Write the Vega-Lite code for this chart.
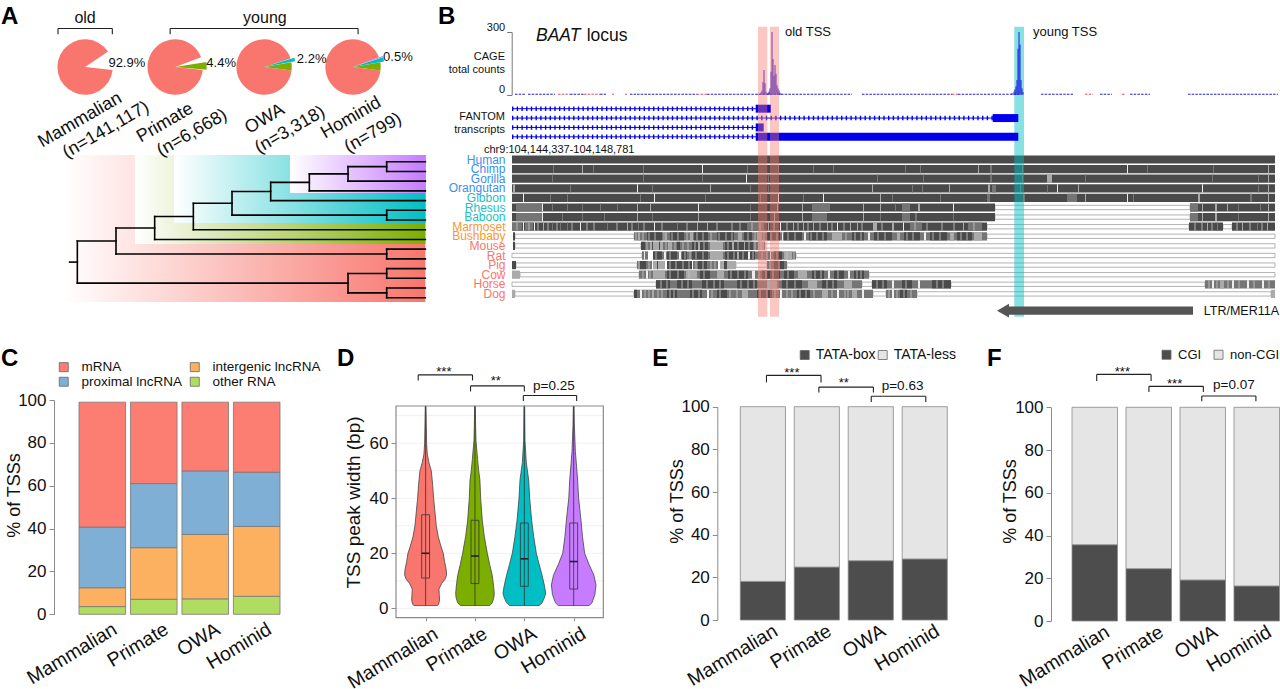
{"$schema":"https://vega.github.io/schema/vega-lite/v6.json","padding":0,"autosize":{"type":"pad"},"background":"white","bounds":"flush","spacing":0,"columns":4,"resolve":{"scale":{"color":"independent"}},
"config":{"font":"Liberation Sans","view":{"stroke":null},"title":{"fontSize":24,"fontWeight":"bold","anchor":"start","frame":"group","offset":0,"baseline":"alphabetic","color":"#000"},"axis":{"grid":false,"labelFontSize":17,"titleFontSize":18,"titleFontWeight":"normal","domainColor":"#8c8c8c","tickColor":"#8c8c8c","labelColor":"#111","titleColor":"#111","tickSize":5,"labelPadding":3,"labelOverlap":false,"labelFlush":false,"labelBound":false},"axisX":{"labelAngle":-31,"labelFontSize":19.5,"labelAlign":"right","labelBaseline":"middle","domain":false,"ticks":false,"labelOffset":13,"labelPadding":13,"title":null},"legend":{"title":null,"padding":0,"symbolType":"square","symbolSize":81,"symbolStrokeColor":"#666","symbolStrokeWidth":0.8,"labelFontSize":13.5,"labelColor":"#111","orient":"none"}},
"datasets":{
"branches":[{"x":8,"x2":9,"y":0,"y2":0},{"x":8,"x2":9,"y":1,"y2":1},{"x":8,"x2":9,"y":5,"y2":5},{"x":8,"x2":9,"y":6,"y2":6},{"x":8,"x2":9,"y":9,"y2":9},{"x":8,"x2":9,"y":10,"y2":10},{"x":8,"x2":9,"y":11,"y2":11},{"x":8,"x2":9,"y":12,"y2":12},{"x":8,"x2":9,"y":13,"y2":13},{"x":8,"x2":9,"y":14,"y2":14},{"x":7,"x2":8,"y":0.5,"y2":0.5},{"x":7,"x2":9,"y":2,"y2":2},{"x":6,"x2":7,"y":1.25,"y2":1.25},{"x":6,"x2":9,"y":3,"y2":3},{"x":5,"x2":6,"y":2.125,"y2":2.125},{"x":5,"x2":9,"y":4,"y2":4},{"x":4,"x2":5,"y":3.06,"y2":3.06},{"x":4,"x2":8,"y":5.5,"y2":5.5},{"x":3,"x2":4,"y":4.28,"y2":4.28},{"x":3,"x2":9,"y":7,"y2":7},{"x":2,"x2":3,"y":5.64,"y2":5.64},{"x":2,"x2":9,"y":8,"y2":8},{"x":1,"x2":2,"y":6.82,"y2":6.82},{"x":1,"x2":8,"y":9.5,"y2":9.5},{"x":0,"x2":1,"y":8.16,"y2":8.16},{"x":0,"x2":7,"y":12.5,"y2":12.5},{"x":7,"x2":8,"y":11.5,"y2":11.5},{"x":7,"x2":8,"y":13.5,"y2":13.5},{"x":-0.2,"x2":0,"y":10.33,"y2":10.33},{"x":8,"x2":8,"y":0,"y2":1},{"x":7,"x2":7,"y":0.5,"y2":2},{"x":6,"x2":6,"y":1.25,"y2":3},{"x":5,"x2":5,"y":2.125,"y2":4},{"x":8,"x2":8,"y":5,"y2":6},{"x":4,"x2":4,"y":3.06,"y2":5.5},{"x":3,"x2":3,"y":4.28,"y2":7},{"x":2,"x2":2,"y":5.64,"y2":8},{"x":8,"x2":8,"y":9,"y2":10},{"x":1,"x2":1,"y":6.82,"y2":9.5},{"x":8,"x2":8,"y":11,"y2":12},{"x":8,"x2":8,"y":13,"y2":14},{"x":7,"x2":7,"y":11.5,"y2":13.5},{"x":0,"x2":0,"y":8.16,"y2":12.5}],
"aln":[{"s":"Human","a":0,"b":763,"c":"h"},
{"s":"Chimp","a":0,"b":763,"c":"h"},{"s":"Chimp","a":41,"b":42,"c":"m"},{"s":"Chimp","a":70,"b":71,"c":"l"},{"s":"Chimp","a":81,"b":82,"c":"m"},{"s":"Chimp","a":131,"b":132,"c":"m"},{"s":"Chimp","a":190,"b":191,"c":"w"},{"s":"Chimp","a":235,"b":236,"c":"m"},{"s":"Chimp","a":266,"b":267,"c":"m"},{"s":"Chimp","a":301,"b":302,"c":"m"},{"s":"Chimp","a":321,"b":322,"c":"m"},{"s":"Chimp","a":393,"b":394,"c":"m"},{"s":"Chimp","a":408,"b":409,"c":"m"},{"s":"Chimp","a":466,"b":467,"c":"l"},{"s":"Chimp","a":478,"b":480,"c":"m"},{"s":"Chimp","a":510,"b":511,"c":"m"},{"s":"Chimp","a":615,"b":616,"c":"w"},{"s":"Chimp","a":635,"b":636,"c":"m"},{"s":"Chimp","a":701,"b":702,"c":"m"},{"s":"Chimp","a":756,"b":757,"c":"l"},
{"s":"Gorilla","a":0,"b":763,"c":"h"},{"s":"Gorilla","a":40,"b":41,"c":"m"},{"s":"Gorilla","a":131,"b":132,"c":"m"},{"s":"Gorilla","a":190,"b":191,"c":"m"},{"s":"Gorilla","a":234,"b":235,"c":"w"},{"s":"Gorilla","a":256,"b":257,"c":"m"},{"s":"Gorilla","a":365,"b":366,"c":"m"},{"s":"Gorilla","a":411,"b":412,"c":"m"},{"s":"Gorilla","a":478,"b":480,"c":"m"},{"s":"Gorilla","a":510,"b":511,"c":"m"},{"s":"Gorilla","a":535,"b":540,"c":"l"},{"s":"Gorilla","a":573,"b":574,"c":"m"},{"s":"Gorilla","a":700,"b":701,"c":"m"},{"s":"Gorilla","a":746,"b":747,"c":"m"},{"s":"Gorilla","a":756,"b":757,"c":"l"},
{"s":"Orangutan","a":0,"b":763,"c":"h"},{"s":"Orangutan","a":1,"b":3,"c":"l"},{"s":"Orangutan","a":58,"b":59,"c":"m"},{"s":"Orangutan","a":125,"b":126,"c":"w"},{"s":"Orangutan","a":140,"b":141,"c":"m"},{"s":"Orangutan","a":198,"b":199,"c":"l"},{"s":"Orangutan","a":238,"b":239,"c":"m"},{"s":"Orangutan","a":256,"b":257,"c":"m"},{"s":"Orangutan","a":360,"b":361,"c":"l"},{"s":"Orangutan","a":400,"b":401,"c":"m"},{"s":"Orangutan","a":410,"b":411,"c":"m"},{"s":"Orangutan","a":437,"b":438,"c":"l"},{"s":"Orangutan","a":476,"b":478,"c":"l"},{"s":"Orangutan","a":480,"b":484,"c":"m"},{"s":"Orangutan","a":508,"b":509,"c":"m"},{"s":"Orangutan","a":535,"b":536,"c":"m"},{"s":"Orangutan","a":545,"b":546,"c":"w"},{"s":"Orangutan","a":566,"b":567,"c":"l"},{"s":"Orangutan","a":690,"b":691,"c":"w"},{"s":"Orangutan","a":746,"b":747,"c":"m"},{"s":"Orangutan","a":756,"b":757,"c":"l"},
{"s":"Gibbon","a":0,"b":763,"c":"h"},{"s":"Gibbon","a":11,"b":12,"c":"w"},{"s":"Gibbon","a":38,"b":39,"c":"m"},{"s":"Gibbon","a":55,"b":56,"c":"m"},{"s":"Gibbon","a":128,"b":129,"c":"m"},{"s":"Gibbon","a":142,"b":143,"c":"w"},{"s":"Gibbon","a":193,"b":194,"c":"m"},{"s":"Gibbon","a":248,"b":249,"c":"m"},{"s":"Gibbon","a":266,"b":267,"c":"w"},{"s":"Gibbon","a":291,"b":292,"c":"m"},{"s":"Gibbon","a":311,"b":312,"c":"w"},{"s":"Gibbon","a":368,"b":369,"c":"l"},{"s":"Gibbon","a":380,"b":381,"c":"m"},{"s":"Gibbon","a":428,"b":429,"c":"m"},{"s":"Gibbon","a":475,"b":478,"c":"m"},{"s":"Gibbon","a":511,"b":513,"c":"m"},{"s":"Gibbon","a":555,"b":565,"c":"m"},{"s":"Gibbon","a":573,"b":574,"c":"l"},{"s":"Gibbon","a":615,"b":616,"c":"w"},{"s":"Gibbon","a":621,"b":622,"c":"m"},{"s":"Gibbon","a":686,"b":688,"c":"l"},{"s":"Gibbon","a":738,"b":740,"c":"m"},{"s":"Gibbon","a":756,"b":757,"c":"l"},
{"s":"Rhesus","a":0,"b":483,"c":"h"},{"s":"Rhesus","a":678,"b":763,"c":"h"},{"s":"Rhesus","a":4,"b":30,"c":"m"},{"s":"Rhesus","a":30,"b":31,"c":"w"},{"s":"Rhesus","a":40,"b":41,"c":"m"},{"s":"Rhesus","a":55,"b":56,"c":"m"},{"s":"Rhesus","a":70,"b":71,"c":"m"},{"s":"Rhesus","a":88,"b":89,"c":"m"},{"s":"Rhesus","a":105,"b":106,"c":"m"},{"s":"Rhesus","a":125,"b":126,"c":"l"},{"s":"Rhesus","a":138,"b":139,"c":"l"},{"s":"Rhesus","a":186,"b":187,"c":"w"},{"s":"Rhesus","a":238,"b":239,"c":"m"},{"s":"Rhesus","a":265,"b":266,"c":"l"},{"s":"Rhesus","a":290,"b":291,"c":"l"},{"s":"Rhesus","a":300,"b":318,"c":"m"},{"s":"Rhesus","a":351,"b":352,"c":"l"},{"s":"Rhesus","a":368,"b":369,"c":"l"},{"s":"Rhesus","a":383,"b":384,"c":"m"},{"s":"Rhesus","a":390,"b":398,"c":"m"},{"s":"Rhesus","a":406,"b":408,"c":"l"},{"s":"Rhesus","a":441,"b":442,"c":"w"},{"s":"Rhesus","a":678,"b":686,"c":"m"},{"s":"Rhesus","a":690,"b":691,"c":"l"},{"s":"Rhesus","a":703,"b":705,"c":"l"},{"s":"Rhesus","a":715,"b":716,"c":"l"},{"s":"Rhesus","a":726,"b":727,"c":"m"},{"s":"Rhesus","a":748,"b":749,"c":"m"},{"s":"Rhesus","a":756,"b":757,"c":"l"},
{"s":"Baboon","a":0,"b":483,"c":"h"},{"s":"Baboon","a":678,"b":763,"c":"h"},{"s":"Baboon","a":4,"b":30,"c":"m"},{"s":"Baboon","a":30,"b":31,"c":"w"},{"s":"Baboon","a":50,"b":51,"c":"m"},{"s":"Baboon","a":70,"b":71,"c":"m"},{"s":"Baboon","a":92,"b":93,"c":"m"},{"s":"Baboon","a":125,"b":126,"c":"l"},{"s":"Baboon","a":140,"b":141,"c":"m"},{"s":"Baboon","a":186,"b":187,"c":"l"},{"s":"Baboon","a":238,"b":239,"c":"m"},{"s":"Baboon","a":262,"b":263,"c":"l"},{"s":"Baboon","a":290,"b":291,"c":"l"},{"s":"Baboon","a":300,"b":315,"c":"m"},{"s":"Baboon","a":351,"b":352,"c":"l"},{"s":"Baboon","a":368,"b":369,"c":"m"},{"s":"Baboon","a":390,"b":398,"c":"m"},{"s":"Baboon","a":403,"b":405,"c":"m"},{"s":"Baboon","a":441,"b":442,"c":"m"},{"s":"Baboon","a":678,"b":686,"c":"m"},{"s":"Baboon","a":690,"b":691,"c":"l"},{"s":"Baboon","a":703,"b":705,"c":"l"},{"s":"Baboon","a":726,"b":727,"c":"m"},{"s":"Baboon","a":756,"b":757,"c":"l"},
{"s":"Marmoset","a":0,"b":475,"c":"h"},{"s":"Marmoset","a":677,"b":711,"c":"h"},{"s":"Marmoset","a":720,"b":763,"c":"h"},{"s":"Marmoset","a":0,"b":10,"c":"m"},{"s":"Marmoset","a":11,"b":12,"c":"w"},{"s":"Marmoset","a":13,"b":21,"c":"m"},{"s":"Marmoset","a":22,"b":23,"c":"w"},{"s":"Marmoset","a":31,"b":32,"c":"l"},{"s":"Marmoset","a":40,"b":41,"c":"m"},{"s":"Marmoset","a":48,"b":49,"c":"m"},{"s":"Marmoset","a":55,"b":56,"c":"m"},{"s":"Marmoset","a":68,"b":69,"c":"w"},{"s":"Marmoset","a":95,"b":96,"c":"m"},{"s":"Marmoset","a":115,"b":116,"c":"l"},{"s":"Marmoset","a":126,"b":127,"c":"m"},{"s":"Marmoset","a":142,"b":143,"c":"w"},{"s":"Marmoset","a":165,"b":166,"c":"m"},{"s":"Marmoset","a":185,"b":186,"c":"l"},{"s":"Marmoset","a":195,"b":196,"c":"l"},{"s":"Marmoset","a":235,"b":252,"c":"m"},{"s":"Marmoset","a":256,"b":257,"c":"l"},{"s":"Marmoset","a":268,"b":269,"c":"w"},{"s":"Marmoset","a":281,"b":282,"c":"l"},{"s":"Marmoset","a":291,"b":292,"c":"l"},{"s":"Marmoset","a":301,"b":302,"c":"l"},{"s":"Marmoset","a":315,"b":316,"c":"l"},{"s":"Marmoset","a":325,"b":326,"c":"w"},{"s":"Marmoset","a":338,"b":339,"c":"l"},{"s":"Marmoset","a":345,"b":346,"c":"l"},{"s":"Marmoset","a":361,"b":365,"c":"l"},{"s":"Marmoset","a":380,"b":382,"c":"l"},{"s":"Marmoset","a":391,"b":392,"c":"w"},{"s":"Marmoset","a":398,"b":410,"c":"m"},{"s":"Marmoset","a":451,"b":452,"c":"l"},{"s":"Marmoset","a":456,"b":470,"c":"m"},{"s":"Marmoset","a":695,"b":696,"c":"l"},{"s":"Marmoset","a":705,"b":706,"c":"m"},{"s":"Marmoset","a":730,"b":731,"c":"l"},{"s":"Marmoset","a":745,"b":746,"c":"m"},{"s":"Marmoset","a":755,"b":756,"c":"l"},
{"s":"Bushbaby","a":1,"b":3,"c":"h"},{"s":"Bushbaby","a":122,"b":475,"c":"m"},{"s":"Bushbaby","a":135,"b":150,"c":"h"},{"s":"Bushbaby","a":158,"b":172,"c":"h"},{"s":"Bushbaby","a":182,"b":196,"c":"h"},{"s":"Bushbaby","a":205,"b":222,"c":"h"},{"s":"Bushbaby","a":232,"b":240,"c":"h"},{"s":"Bushbaby","a":255,"b":268,"c":"h"},{"s":"Bushbaby","a":272,"b":290,"c":"h"},{"s":"Bushbaby","a":297,"b":315,"c":"h"},{"s":"Bushbaby","a":340,"b":352,"c":"h"},{"s":"Bushbaby","a":362,"b":380,"c":"h"},{"s":"Bushbaby","a":392,"b":408,"c":"h"},{"s":"Bushbaby","a":418,"b":435,"c":"h"},{"s":"Bushbaby","a":445,"b":460,"c":"h"},{"s":"Bushbaby","a":126,"b":128,"c":"l"},{"s":"Bushbaby","a":153,"b":155,"c":"l"},{"s":"Bushbaby","a":178,"b":181,"c":"l"},{"s":"Bushbaby","a":226,"b":230,"c":"l"},{"s":"Bushbaby","a":245,"b":250,"c":"l"},{"s":"Bushbaby","a":270,"b":271,"c":"w"},{"s":"Bushbaby","a":292,"b":294,"c":"w"},{"s":"Bushbaby","a":320,"b":330,"c":"l"},{"s":"Bushbaby","a":356,"b":358,"c":"w"},{"s":"Bushbaby","a":385,"b":388,"c":"l"},{"s":"Bushbaby","a":412,"b":414,"c":"w"},{"s":"Bushbaby","a":438,"b":442,"c":"l"},{"s":"Bushbaby","a":462,"b":470,"c":"l"},
{"s":"Mouse","a":1,"b":3,"c":"h"},{"s":"Mouse","a":129,"b":253,"c":"m"},{"s":"Mouse","a":129,"b":133,"c":"h"},{"s":"Mouse","a":138,"b":151,"c":"l"},{"s":"Mouse","a":140,"b":141,"c":"h"},{"s":"Mouse","a":147,"b":148,"c":"h"},{"s":"Mouse","a":156,"b":160,"c":"l"},{"s":"Mouse","a":165,"b":168,"c":"h"},{"s":"Mouse","a":180,"b":196,"c":"h"},{"s":"Mouse","a":186,"b":188,"c":"l"},{"s":"Mouse","a":198,"b":211,"c":"l"},{"s":"Mouse","a":213,"b":241,"c":"h"},{"s":"Mouse","a":220,"b":222,"c":"l"},{"s":"Mouse","a":232,"b":233,"c":"l"},{"s":"Mouse","a":246,"b":252,"c":"l"},
{"s":"Rat","a":130,"b":136,"c":"m"},{"s":"Rat","a":132,"b":133,"c":"w"},{"s":"Rat","a":141,"b":284,"c":"m"},{"s":"Rat","a":141,"b":150,"c":"h"},{"s":"Rat","a":155,"b":165,"c":"h"},{"s":"Rat","a":170,"b":175,"c":"h"},{"s":"Rat","a":152,"b":154,"c":"w"},{"s":"Rat","a":167,"b":169,"c":"w"},{"s":"Rat","a":180,"b":196,"c":"h"},{"s":"Rat","a":198,"b":211,"c":"l"},{"s":"Rat","a":213,"b":243,"c":"h"},{"s":"Rat","a":225,"b":227,"c":"l"},{"s":"Rat","a":236,"b":238,"c":"w"},{"s":"Rat","a":246,"b":258,"c":"m"},{"s":"Rat","a":258,"b":259,"c":"w"},{"s":"Rat","a":262,"b":270,"c":"h"},{"s":"Rat","a":272,"b":280,"c":"l"},
{"s":"Pig","a":0,"b":4,"c":"h"},{"s":"Pig","a":125,"b":140,"c":"m"},{"s":"Pig","a":128,"b":134,"c":"h"},{"s":"Pig","a":141,"b":153,"c":"l"},{"s":"Pig","a":145,"b":146,"c":"h"},{"s":"Pig","a":155,"b":180,"c":"h"},{"s":"Pig","a":181,"b":206,"c":"m"},{"s":"Pig","a":186,"b":195,"c":"h"},{"s":"Pig","a":208,"b":224,"c":"l"},{"s":"Pig","a":212,"b":215,"c":"h"},{"s":"Pig","a":255,"b":275,"c":"m"},{"s":"Pig","a":262,"b":272,"c":"h"},
{"s":"Cow","a":0,"b":8,"c":"l"},{"s":"Cow","a":127,"b":357,"c":"m"},{"s":"Cow","a":134,"b":136,"c":"w"},{"s":"Cow","a":141,"b":153,"c":"l"},{"s":"Cow","a":155,"b":172,"c":"h"},{"s":"Cow","a":174,"b":185,"c":"l"},{"s":"Cow","a":188,"b":198,"c":"h"},{"s":"Cow","a":205,"b":212,"c":"l"},{"s":"Cow","a":216,"b":236,"c":"h"},{"s":"Cow","a":240,"b":243,"c":"w"},{"s":"Cow","a":250,"b":268,"c":"h"},{"s":"Cow","a":272,"b":282,"c":"h"},{"s":"Cow","a":286,"b":295,"c":"l"},{"s":"Cow","a":300,"b":312,"c":"h"},{"s":"Cow","a":316,"b":318,"c":"w"},{"s":"Cow","a":322,"b":332,"c":"h"},{"s":"Cow","a":336,"b":338,"c":"w"},{"s":"Cow","a":342,"b":352,"c":"h"},
{"s":"Horse","a":144,"b":350,"c":"m"},{"s":"Horse","a":360,"b":439,"c":"m"},{"s":"Horse","a":693,"b":763,"c":"m"},{"s":"Horse","a":144,"b":158,"c":"h"},{"s":"Horse","a":165,"b":180,"c":"h"},{"s":"Horse","a":190,"b":212,"c":"h"},{"s":"Horse","a":225,"b":245,"c":"h"},{"s":"Horse","a":255,"b":265,"c":"l"},{"s":"Horse","a":270,"b":290,"c":"h"},{"s":"Horse","a":296,"b":305,"c":"l"},{"s":"Horse","a":310,"b":325,"c":"h"},{"s":"Horse","a":332,"b":340,"c":"l"},{"s":"Horse","a":360,"b":375,"c":"h"},{"s":"Horse","a":380,"b":382,"c":"w"},{"s":"Horse","a":390,"b":400,"c":"h"},{"s":"Horse","a":406,"b":408,"c":"w"},{"s":"Horse","a":420,"b":439,"c":"h"},{"s":"Horse","a":700,"b":702,"c":"w"},{"s":"Horse","a":708,"b":712,"c":"l"},{"s":"Horse","a":720,"b":722,"c":"w"},{"s":"Horse","a":735,"b":737,"c":"w"},{"s":"Horse","a":750,"b":752,"c":"w"},
{"s":"Dog","a":0,"b":3,"c":"l"},{"s":"Dog","a":122,"b":361,"c":"m"},{"s":"Dog","a":374,"b":405,"c":"m"},{"s":"Dog","a":759,"b":763,"c":"l"},{"s":"Dog","a":122,"b":125,"c":"h"},{"s":"Dog","a":128,"b":130,"c":"w"},{"s":"Dog","a":140,"b":142,"c":"l"},{"s":"Dog","a":155,"b":165,"c":"h"},{"s":"Dog","a":178,"b":190,"c":"h"},{"s":"Dog","a":195,"b":197,"c":"w"},{"s":"Dog","a":205,"b":215,"c":"h"},{"s":"Dog","a":230,"b":236,"c":"l"},{"s":"Dog","a":245,"b":260,"c":"h"},{"s":"Dog","a":268,"b":270,"c":"w"},{"s":"Dog","a":285,"b":298,"c":"h"},{"s":"Dog","a":310,"b":316,"c":"l"},{"s":"Dog","a":325,"b":327,"c":"w"},{"s":"Dog","a":340,"b":345,"c":"l"},{"s":"Dog","a":350,"b":352,"c":"w"},{"s":"Dog","a":380,"b":382,"c":"w"},{"s":"Dog","a":388,"b":395,"c":"h"}],
"stripes":[{"s":"Bushbaby","a":124},{"s":"Bushbaby","a":131},{"s":"Bushbaby","a":137},{"s":"Bushbaby","a":143},{"s":"Bushbaby","a":152},{"s":"Bushbaby","a":160},{"s":"Bushbaby","a":166},{"s":"Bushbaby","a":175},{"s":"Bushbaby","a":185},{"s":"Bushbaby","a":191},{"s":"Bushbaby","a":199},{"s":"Bushbaby","a":207},{"s":"Bushbaby","a":214},{"s":"Bushbaby","a":220},{"s":"Bushbaby","a":236},{"s":"Bushbaby","a":243},{"s":"Bushbaby","a":252},{"s":"Bushbaby","a":259},{"s":"Bushbaby","a":265},{"s":"Bushbaby","a":276},{"s":"Bushbaby","a":283},{"s":"Bushbaby","a":299},{"s":"Bushbaby","a":305},{"s":"Bushbaby","a":311},{"s":"Bushbaby","a":334},{"s":"Bushbaby","a":343},{"s":"Bushbaby","a":349},{"s":"Bushbaby","a":366},{"s":"Bushbaby","a":373},{"s":"Bushbaby","a":395},{"s":"Bushbaby","a":401},{"s":"Bushbaby","a":421},{"s":"Bushbaby","a":428},{"s":"Bushbaby","a":449},{"s":"Bushbaby","a":455},
{"s":"Mouse","a":135},{"s":"Mouse","a":154},{"s":"Mouse","a":163},{"s":"Mouse","a":171},{"s":"Mouse","a":176},{"s":"Mouse","a":183},{"s":"Mouse","a":192},{"s":"Mouse","a":216},{"s":"Mouse","a":226},{"s":"Mouse","a":237},{"s":"Mouse","a":243},{"s":"Mouse","a":249},
{"s":"Rat","a":144},{"s":"Rat","a":158},{"s":"Rat","a":173},{"s":"Rat","a":178},{"s":"Rat","a":184},{"s":"Rat","a":191},{"s":"Rat","a":216},{"s":"Rat","a":222},{"s":"Rat","a":231},{"s":"Rat","a":241},{"s":"Rat","a":250},{"s":"Rat","a":255},{"s":"Rat","a":265},{"s":"Rat","a":275},{"s":"Rat","a":282},
{"s":"Pig","a":127},{"s":"Pig","a":137},{"s":"Pig","a":158},{"s":"Pig","a":164},{"s":"Pig","a":171},{"s":"Pig","a":177},{"s":"Pig","a":184},{"s":"Pig","a":191},{"s":"Pig","a":199},{"s":"Pig","a":203},{"s":"Pig","a":258},{"s":"Pig","a":267},
{"s":"Cow","a":131},{"s":"Cow","a":138},{"s":"Cow","a":158},{"s":"Cow","a":166},{"s":"Cow","a":177},{"s":"Cow","a":192},{"s":"Cow","a":219},{"s":"Cow","a":226},{"s":"Cow","a":233},{"s":"Cow","a":247},{"s":"Cow","a":254},{"s":"Cow","a":261},{"s":"Cow","a":276},{"s":"Cow","a":303},{"s":"Cow","a":309},{"s":"Cow","a":326},{"s":"Cow","a":345},{"s":"Cow","a":349},
{"s":"Horse","a":149},{"s":"Horse","a":155},{"s":"Horse","a":170},{"s":"Horse","a":176},{"s":"Horse","a":195},{"s":"Horse","a":202},{"s":"Horse","a":208},{"s":"Horse","a":229},{"s":"Horse","a":236},{"s":"Horse","a":242},{"s":"Horse","a":275},{"s":"Horse","a":283},{"s":"Horse","a":315},{"s":"Horse","a":321},{"s":"Horse","a":365},{"s":"Horse","a":371},{"s":"Horse","a":394},{"s":"Horse","a":425},{"s":"Horse","a":431},{"s":"Horse","a":697},{"s":"Horse","a":705},{"s":"Horse","a":716},{"s":"Horse","a":727},{"s":"Horse","a":742},{"s":"Horse","a":757},
{"s":"Dog","a":133},{"s":"Dog","a":137},{"s":"Dog","a":146},{"s":"Dog","a":150},{"s":"Dog","a":158},{"s":"Dog","a":162},{"s":"Dog","a":181},{"s":"Dog","a":187},{"s":"Dog","a":200},{"s":"Dog","a":208},{"s":"Dog","a":218},{"s":"Dog","a":225},{"s":"Dog","a":248},{"s":"Dog","a":255},{"s":"Dog","a":263},{"s":"Dog","a":275},{"s":"Dog","a":280},{"s":"Dog","a":288},{"s":"Dog","a":294},{"s":"Dog","a":302},{"s":"Dog","a":320},{"s":"Dog","a":333},{"s":"Dog","a":336},{"s":"Dog","a":377},{"s":"Dog","a":385},{"s":"Dog","a":392},{"s":"Dog","a":399},
{"s":"Marmoset","a":5},{"s":"Marmoset","a":17},{"s":"Marmoset","a":26},{"s":"Marmoset","a":36},{"s":"Marmoset","a":45},{"s":"Marmoset","a":60},{"s":"Marmoset","a":75},{"s":"Marmoset","a":82},{"s":"Marmoset","a":105},{"s":"Marmoset","a":120},{"s":"Marmoset","a":132},{"s":"Marmoset","a":150},{"s":"Marmoset","a":175},{"s":"Marmoset","a":205},{"s":"Marmoset","a":220},{"s":"Marmoset","a":228},{"s":"Marmoset","a":240},{"s":"Marmoset","a":248},{"s":"Marmoset","a":262},{"s":"Marmoset","a":275},{"s":"Marmoset","a":286},{"s":"Marmoset","a":296},{"s":"Marmoset","a":308},{"s":"Marmoset","a":320},{"s":"Marmoset","a":332},{"s":"Marmoset","a":350},{"s":"Marmoset","a":370},{"s":"Marmoset","a":403},{"s":"Marmoset","a":415},{"s":"Marmoset","a":430},{"s":"Marmoset","a":442},{"s":"Marmoset","a":462},{"s":"Marmoset","a":683},{"s":"Marmoset","a":690},{"s":"Marmoset","a":700},{"s":"Marmoset","a":725},{"s":"Marmoset","a":738},{"s":"Marmoset","a":750}],
"gaps":[{"s":"Rhesus","a":483,"b":678},{"s":"Baboon","a":483,"b":678},{"s":"Marmoset","a":475,"b":677},{"s":"Marmoset","a":711,"b":720},{"s":"Bushbaby","a":3,"b":122},{"s":"Bushbaby","a":475,"b":763},{"s":"Mouse","a":3,"b":129},{"s":"Mouse","a":253,"b":763},{"s":"Rat","a":0,"b":130},{"s":"Rat","a":284,"b":763},{"s":"Pig","a":4,"b":125},{"s":"Pig","a":224,"b":255},{"s":"Pig","a":275,"b":763},{"s":"Cow","a":8,"b":127},{"s":"Cow","a":357,"b":763},{"s":"Horse","a":0,"b":144},{"s":"Horse","a":350,"b":360},{"s":"Horse","a":439,"b":693},{"s":"Dog","a":3,"b":122},{"s":"Dog","a":361,"b":374},{"s":"Dog","a":405,"b":759}],
"violins":[
{"age":"Mammalian","y":1,"x":0.76,"x2":1.24},{"age":"Mammalian","y":1.5,"x":0.737,"x2":1.263},{"age":"Mammalian","y":3,"x":0.717,"x2":1.283},{"age":"Mammalian","y":5,"x":0.724,"x2":1.276},{"age":"Mammalian","y":7,"x":0.73,"x2":1.27},{"age":"Mammalian","y":9,"x":0.676,"x2":1.324},{"age":"Mammalian","y":10.5,"x":0.609,"x2":1.391},{"age":"Mammalian","y":12,"x":0.575,"x2":1.425},{"age":"Mammalian","y":14,"x":0.582,"x2":1.418},{"age":"Mammalian","y":17,"x":0.616,"x2":1.384},{"age":"Mammalian","y":20,"x":0.643,"x2":1.357},{"age":"Mammalian","y":23,"x":0.697,"x2":1.303},{"age":"Mammalian","y":26,"x":0.744,"x2":1.256},{"age":"Mammalian","y":30,"x":0.784,"x2":1.216},{"age":"Mammalian","y":35,"x":0.811,"x2":1.189},{"age":"Mammalian","y":40,"x":0.838,"x2":1.162},{"age":"Mammalian","y":45,"x":0.858,"x2":1.142},{"age":"Mammalian","y":50,"x":0.885,"x2":1.115},{"age":"Mammalian","y":53,"x":0.933,"x2":1.067},{"age":"Mammalian","y":56,"x":0.966,"x2":1.034},{"age":"Mammalian","y":60,"x":0.98,"x2":1.02},{"age":"Mammalian","y":67,"x":0.987,"x2":1.013},{"age":"Mammalian","y":73.5,"x":0.993,"x2":1.007},
{"age":"Primate","y":1,"x":1.703,"x2":2.297},{"age":"Primate","y":2,"x":1.65,"x2":2.35},{"age":"Primate","y":4,"x":1.616,"x2":2.384},{"age":"Primate","y":5.5,"x":1.609,"x2":2.391},{"age":"Primate","y":8,"x":1.622,"x2":2.378},{"age":"Primate","y":12,"x":1.65,"x2":2.35},{"age":"Primate","y":16,"x":1.703,"x2":2.297},{"age":"Primate","y":20,"x":1.75,"x2":2.25},{"age":"Primate","y":26,"x":1.81,"x2":2.19},{"age":"Primate","y":32,"x":1.852,"x2":2.148},{"age":"Primate","y":40,"x":1.885,"x2":2.115},{"age":"Primate","y":46.6,"x":1.9,"x2":2.1},{"age":"Primate","y":50,"x":1.925,"x2":2.075},{"age":"Primate","y":54,"x":1.946,"x2":2.054},{"age":"Primate","y":61,"x":1.98,"x2":2.02},{"age":"Primate","y":66,"x":1.987,"x2":2.013},{"age":"Primate","y":73.5,"x":1.993,"x2":2.007},
{"age":"OWA","y":1,"x":2.703,"x2":3.297},{"age":"OWA","y":2,"x":2.64,"x2":3.36},{"age":"OWA","y":4,"x":2.59,"x2":3.41},{"age":"OWA","y":5.5,"x":2.568,"x2":3.432},{"age":"OWA","y":8,"x":2.59,"x2":3.41},{"age":"OWA","y":12,"x":2.64,"x2":3.36},{"age":"OWA","y":16,"x":2.7,"x2":3.3},{"age":"OWA","y":20,"x":2.757,"x2":3.243},{"age":"OWA","y":26,"x":2.81,"x2":3.19},{"age":"OWA","y":32,"x":2.852,"x2":3.148},{"age":"OWA","y":40,"x":2.892,"x2":3.108},{"age":"OWA","y":46.6,"x":2.912,"x2":3.088},{"age":"OWA","y":53,"x":2.96,"x2":3.04},{"age":"OWA","y":61,"x":2.987,"x2":3.013},{"age":"OWA","y":73.5,"x":2.993,"x2":3.007},
{"age":"Hominid","y":1,"x":3.69,"x2":4.31},{"age":"Hominid","y":2,"x":3.63,"x2":4.37},{"age":"Hominid","y":5,"x":3.57,"x2":4.43},{"age":"Hominid","y":8.5,"x":3.548,"x2":4.452},{"age":"Hominid","y":12,"x":3.59,"x2":4.41},{"age":"Hominid","y":16,"x":3.69,"x2":4.31},{"age":"Hominid","y":20,"x":3.778,"x2":4.222},{"age":"Hominid","y":26,"x":3.822,"x2":4.178},{"age":"Hominid","y":32,"x":3.852,"x2":4.148},{"age":"Hominid","y":40,"x":3.9,"x2":4.1},{"age":"Hominid","y":46.6,"x":3.92,"x2":4.08},{"age":"Hominid","y":57,"x":3.966,"x2":4.034},{"age":"Hominid","y":67,"x":3.987,"x2":4.013},{"age":"Hominid","y":73.5,"x":3.993,"x2":4.007}]},
"concat":[
{"width":396,"height":340,"title":{"text":"A","dx":1,"dy":33},
"encoding":{"x":{"field":"x","type":"quantitative","scale":{"domain":[-2,9.12],"range":[0,430]},"axis":null},"y":{"field":"y","type":"quantitative","scale":{"domain":[-16.65,18.35],"reverse":true},"axis":null}},
"layer":[
{"data":{"values":[{"clade":"Mammalian","x":-0.37,"x2":9,"y":-0.69,"y2":14.45}]},"mark":{"type":"rect","fill":{"gradient":"linear","x1":0,"y1":0,"x2":1,"y2":0,"stops":[{"offset":0,"color":"#ffffff"},{"offset":1,"color":"#F8766D"}]}},"encoding":{"x2":{"field":"x2"},"y2":{"field":"y2"}}},
{"data":{"values":[{"clade":"Primate","x":1.49,"x2":9,"y":-0.69,"y2":8.47}]},"mark":{"type":"rect","fill":{"gradient":"linear","x1":0,"y1":0,"x2":1,"y2":0,"stops":[{"offset":0,"color":"#ffffff"},{"offset":1,"color":"#7CAE00"}]}},"encoding":{"x2":{"field":"x2"},"y2":{"field":"y2"}}},
{"data":{"values":[{"clade":"OWA","x":2.5,"x2":9,"y":-0.69,"y2":6.31}]},"mark":{"type":"rect","fill":{"gradient":"linear","x1":0,"y1":0,"x2":1,"y2":0,"stops":[{"offset":0,"color":"#ffffff"},{"offset":1,"color":"#00BFC4"}]}},"encoding":{"x2":{"field":"x2"},"y2":{"field":"y2"}}},
{"data":{"values":[{"clade":"Hominid","x":5.5,"x2":9,"y":-0.69,"y2":3.22}]},"mark":{"type":"rect","fill":{"gradient":"linear","x1":0,"y1":0,"x2":1,"y2":0,"stops":[{"offset":0,"color":"#ffffff"},{"offset":1,"color":"#C77CFF"}]}},"encoding":{"x2":{"field":"x2"},"y2":{"field":"y2"}}},
{"data":{"name":"branches"},"mark":{"type":"rule","color":"#000","strokeWidth":1.6,"strokeCap":"square"},"encoding":{"x2":{"field":"x2"},"y2":{"field":"y2"}}},
{"data":{"values":[{"x":-0.5,"x2":0.905,"y":-13.72,"y2":-13.72},{"x":-0.5,"x2":-0.5,"y":-13.72,"y2":-13.12},{"x":0.905,"x2":0.905,"y":-13.72,"y2":-13.12},{"x":2.4,"x2":7.26,"y":-13.72,"y2":-13.72},{"x":2.4,"x2":2.4,"y":-13.72,"y2":-13.12},{"x":7.26,"x2":7.26,"y":-13.72,"y2":-13.12}]},"mark":{"type":"rule","color":"#222","strokeWidth":1.1},"encoding":{"x2":{"field":"x2"},"y2":{"field":"y2"}}},
{"data":{"values":[{"t":"old","x":0.2,"y":-14.8},{"t":"young","x":4.85,"y":-14.8}]},"mark":{"type":"text","fontSize":16,"baseline":"middle","color":"#111"},"encoding":{"text":{"field":"t"}}},
{"data":{"values":[
{"age":"Mammalian","part":"Mammalian","x":0.2,"y":-9.75,"s":26.7,"e":115.6},
{"age":"Primate","part":"Mammalian","x":2.53,"y":-9.75,"s":26.7,"e":119.2},
{"age":"OWA","part":"Mammalian","x":4.83,"y":-9.75,"s":27,"e":120},{"age":"OWA","part":"Primate","x":4.83,"y":-9.75,"s":22.3,"e":27},
{"age":"Hominid","part":"Mammalian","x":7.13,"y":-9.75,"s":27,"e":119.3},{"age":"Hominid","part":"Primate","x":7.13,"y":-9.75,"s":22.3,"e":27}]},
"mark":{"type":"arc","outerRadius":27.7,"innerRadius":0},"encoding":{"theta":{"field":"s","type":"quantitative","scale":{"domain":[0,100],"range":[0,6.28318]}},"theta2":{"field":"e"},"color":{"field":"part","type":"nominal","scale":{"domain":["Mammalian","Primate","OWA","Hominid"],"range":["#F8766D","#7CAE00","#00BFC4","#C77CFF"]},"legend":null}}},
{"data":{"values":[
{"age":"Primate","part":"Primate","x":2.53,"y":-9.75,"s":22.5,"e":26.4},
{"age":"OWA","part":"OWA","x":4.83,"y":-9.75,"s":20.3,"e":22},
{"age":"Hominid","part":"Hominid","x":7.13,"y":-9.75,"s":19.3,"e":19.9},{"age":"Hominid","part":"OWA","x":7.13,"y":-9.75,"s":20,"e":22.2}]},
"mark":{"type":"arc","outerRadius":31.5,"innerRadius":0},"encoding":{"theta":{"field":"s","type":"quantitative","scale":{"domain":[0,100],"range":[0,6.28318]}},"theta2":{"field":"e"},"color":{"field":"part","type":"nominal","scale":{"domain":["Mammalian","Primate","OWA","Hominid"],"range":["#F8766D","#7CAE00","#00BFC4","#C77CFF"]},"legend":null}}},
{"data":{"values":[{"t":"92.9%","x":1.28,"y":-10.13},{"t":"4.4%","x":3.72,"y":-10.16},{"t":"2.2%","x":6.06,"y":-10.6},{"t":"0.5%","x":8.29,"y":-10.81}]},"mark":{"type":"text","fontSize":13,"baseline":"middle","color":"#111"},"encoding":{"text":{"field":"t"}}},
{"data":{"values":[{"t":"Mammalian","x":0.07,"y":-4.29},{"t":"(n=141,117)","x":0.74,"y":-3.26},{"t":"Primate","x":2.27,"y":-3.99},{"t":"(n=6,668)","x":2.97,"y":-2.96},{"t":"OWA","x":4.85,"y":-4.4},{"t":"(n=3,318)","x":5.5,"y":-3.26},{"t":"Hominid","x":7.08,"y":-4.5},{"t":"(n=799)","x":7.65,"y":-2.96}]},"mark":{"type":"text","fontSize":18,"angle":330,"baseline":"middle","align":"center","color":"#111"},"encoding":{"text":{"field":"t"}}}
]},
{"width":207.3,"height":340,"title":{"text":"B","dx":42,"dy":33},"resolve":{"scale":{"y":"independent"},"axis":{"y":"independent"}},
"encoding":{"x":{"field":"a","type":"quantitative","scale":{"domain":[-82,768],"range":[34,884]},"axis":null}},
"layer":[
{"data":{"name":"gaps"},"mark":{"type":"rect","fill":"#ffffff","stroke":"#aaaaaa","strokeWidth":0.9},"encoding":{"x2":{"field":"b"},"y":{"field":"s","type":"nominal","axis":null,"scale":{"type":"band","domain":["Human","Chimp","Gorilla","Orangutan","Gibbon","Rhesus","Baboon","Marmoset","Bushbaby","Mouse","Rat","Pig","Cow","Horse","Dog"],"range":[154.7,298.7],"paddingInner":0.55,"paddingOuter":0.275}}}},
{"data":{"name":"aln"},"mark":{"type":"rect"},"encoding":{"x2":{"field":"b"},"y":{"field":"s","type":"nominal","title":null,"scale":{"type":"band","domain":["Human","Chimp","Gorilla","Orangutan","Gibbon","Rhesus","Baboon","Marmoset","Bushbaby","Mouse","Rat","Pig","Cow","Horse","Dog"],"range":[154.7,298.7],"paddingInner":0.145,"paddingOuter":0.0725},"axis":{"orient":"left","offset":-109,"domain":false,"ticks":false,"labelPadding":0,"labelFontSize":12,"labelColor":{"condition":[{"test":"indexof(['Human','Chimp','Gorilla','Orangutan'],datum.value)>=0","value":"#3A8FE8"},{"test":"indexof(['Gibbon','Rhesus','Baboon'],datum.value)>=0","value":"#1CBFC0"},{"test":"indexof(['Marmoset','Bushbaby'],datum.value)>=0","value":"#F79A2A"}],"value":"#F8766D"}}},"color":{"field":"c","type":"nominal","legend":null,"scale":{"domain":["h","m","l","w"],"range":["#4a4a4a","#757575","#aaaaaa","#eeeeee"]}}}},
{"data":{"name":"stripes"},"mark":{"type":"tick","color":"#c4c4c4","thickness":1,"size":8.2,"opacity":0.85},"encoding":{"y":{"field":"s","type":"nominal","axis":null,"scale":{"type":"band","domain":["Human","Chimp","Gorilla","Orangutan","Gibbon","Rhesus","Baboon","Marmoset","Bushbaby","Mouse","Rat","Pig","Cow","Horse","Dog"],"range":[154.7,298.7],"paddingInner":0.145,"paddingOuter":0.0725}}}},
{"data":{"values":[{"name":"young TSS","a":502.3,"b":512,"i":-13.83,"i2":16.38}]},"mark":{"type":"rect","fill":"#00BFC4","opacity":0.47},"encoding":{"x2":{"field":"b"},"y":{"field":"i","type":"quantitative","axis":null,"scale":{"domain":[-16.61,18.8],"reverse":true}},"y2":{"field":"i2"}}},
{"data":{"values":[{"t":"T1","a":0,"b":244},{"t":"T2","a":0,"b":481},{"t":"T3","a":0,"b":244},{"t":"T4","a":0,"b":244}]},"mark":{"type":"rule","color":"#0000EE","strokeWidth":1},"encoding":{"x2":{"field":"b"},"y":{"field":"t","type":"nominal","axis":null,"scale":{"type":"band","domain":["T1","T2","T3","T4"],"range":[104,141.5],"paddingInner":0.15,"paddingOuter":0.075}}}},
{"data":{"values":[{"t":"T1","a":0,"b":244},{"t":"T2","a":0,"b":481},{"t":"T3","a":0,"b":244},{"t":"T4","a":0,"b":244}]},"mark":{"type":"rule","color":"#0000EE","strokeWidth":4.5,"strokeDash":[1.4,3.3]},"encoding":{"x2":{"field":"b"},"y":{"field":"t","type":"nominal","axis":null,"scale":{"type":"band","domain":["T1","T2","T3","T4"],"range":[104,141.5],"paddingInner":0.15,"paddingOuter":0.075}}}},
{"data":{"values":[{"t":"T1","a":243.7,"b":259},{"t":"T2","a":480.7,"b":506.3},{"t":"T3","a":243.7,"b":251.7},{"t":"T4","a":243.7,"b":506.3}]},"mark":{"type":"rect","color":"#0000EE"},"encoding":{"x2":{"field":"b"},"y":{"field":"t","type":"nominal","axis":null,"scale":{"type":"band","domain":["T1","T2","T3","T4"],"range":[104,141.5],"paddingInner":0.15,"paddingOuter":0.075}}}},
{"data":{"values":[{"strand":"+","a":3,"b":14},{"strand":"+","a":16,"b":43},{"strand":"-","a":46,"b":58},{"strand":"+","a":58,"b":72},{"strand":"-","a":72,"b":88},{"strand":"+","a":88,"b":94},{"strand":"-","a":100,"b":102},{"strand":"-","a":113,"b":115},{"strand":"+","a":118,"b":124},{"strand":"+","a":125,"b":185},{"strand":"-","a":185,"b":195},{"strand":"+","a":195,"b":340},{"strand":"+","a":350,"b":440},{"strand":"-","a":440,"b":446},{"strand":"+","a":446,"b":507},{"strand":"+","a":529,"b":561},{"strand":"-","a":573,"b":581},{"strand":"+","a":588,"b":600},{"strand":"-","a":610,"b":613},{"strand":"+","a":618,"b":638},{"strand":"+","a":676,"b":766}]},"mark":{"type":"rule","strokeWidth":1.1,"strokeDash":[2.5,1.2]},"encoding":{"x2":{"field":"b"},"y":{"datum":2,"type":"quantitative","axis":null,"scale":{"domain":[0,300],"range":[94.7,32]}},"stroke":{"field":"strand","type":"nominal","legend":null,"scale":{"domain":["+","-"],"range":["#2222CC","#E0506A"]}}}},
{"data":{"values":[{"a":246,"v":4},{"a":248,"v":6},{"a":249,"v":10},{"a":250,"v":20},{"a":251,"v":60},{"a":252,"v":118},{"a":253,"v":55},{"a":254,"v":15},{"a":255,"v":6},{"a":256,"v":8},{"a":257,"v":15},{"a":258,"v":30},{"a":259,"v":110},{"a":260,"v":300},{"a":261,"v":170},{"a":262,"v":90},{"a":263,"v":142},{"a":264,"v":100},{"a":265,"v":45},{"a":266,"v":30},{"a":267,"v":20},{"a":268,"v":8},{"a":269,"v":4},{"a":500,"v":8},{"a":502,"v":15},{"a":503,"v":25},{"a":504,"v":40},{"a":505,"v":70},{"a":506,"v":220},{"a":507,"v":300},{"a":508,"v":240},{"a":509,"v":70},{"a":510,"v":30},{"a":511,"v":12}]},"mark":{"type":"rule","color":"#1a1ae0","strokeWidth":1},"encoding":{"y":{"field":"v","type":"quantitative","title":null,"scale":{"domain":[0,300],"range":[94.7,32]},"axis":{"orient":"left","offset":-115.7,"values":[0,300],"labelFontSize":11,"tickSize":5,"labelPadding":2,"labelBaseline":"bottom","domainColor":"#777","tickColor":"#777"}},"y2":{"datum":0}}},
{"data":{"values":[{"name":"old TSS","a":246,"b":255.3,"i":-13.83,"i2":16.38},{"name":"old TSS","a":258,"b":267,"i":-13.83,"i2":16.38}]},"mark":{"type":"rect","fill":"#F8766D","opacity":0.42},"encoding":{"x2":{"field":"b"},"y":{"field":"i","type":"quantitative","axis":null,"scale":{"domain":[-16.61,18.8],"reverse":true}},"y2":{"field":"i2"}}},
{"data":{"values":[{"a":495,"b":681,"i":15.75}]},"mark":{"type":"rule","color":"#555555","strokeWidth":8.3},"encoding":{"x2":{"field":"b"},"y":{"field":"i","type":"quantitative","axis":null,"scale":{"domain":[-16.61,18.8],"reverse":true}}}},
{"data":{"values":[{"a":491,"i":15.75}]},"mark":{"type":"point","shape":"triangle-left","filled":true,"color":"#555555","size":190,"opacity":1},"encoding":{"y":{"field":"i","type":"quantitative","axis":null,"scale":{"domain":[-16.61,18.8],"reverse":true}}}},
{"data":{"values":[{"t":"old TSS","a":273,"i":-13.28},{"t":"young TSS","a":521,"i":-13.28}]},"mark":{"type":"text","fontSize":13,"align":"left","baseline":"middle","color":"#111"},"encoding":{"text":{"field":"t"},"y":{"field":"i","type":"quantitative","axis":null,"scale":{"domain":[-16.61,18.8],"reverse":true}}}},
{"data":{"values":[{"t":"chr9:104,144,337-104,148,781","a":-28,"i":-1.02}]},"mark":{"type":"text","fontSize":11,"align":"left","baseline":"middle","color":"#111"},"encoding":{"text":{"field":"t"},"y":{"field":"i","type":"quantitative","axis":null,"scale":{"domain":[-16.61,18.8],"reverse":true}}}},
{"data":{"values":[{"t":"CAGE\ntotal counts","a":-7,"i":-10.7},{"t":"FANTOM\ntranscripts","a":-7,"i":-4.45}]},"mark":{"type":"text","fontSize":11,"align":"right","baseline":"middle","lineBreak":"\n","lineHeight":13.5,"color":"#111"},"encoding":{"text":{"field":"t"},"y":{"field":"i","type":"quantitative","axis":null,"scale":{"domain":[-16.61,18.8],"reverse":true}}}},
{"data":{"values":[{"t":"LTR/MER11A","a":767,"i":15.75}]},"mark":{"type":"text","fontSize":12.5,"align":"right","baseline":"middle","color":"#111"},"encoding":{"text":{"field":"t"},"y":{"field":"i","type":"quantitative","axis":null,"scale":{"domain":[-16.61,18.8],"reverse":true}}}},
{"data":{"values":[{"t":"BAAT","a":24,"i":-12.86}]},"mark":{"type":"text","fontSize":17.5,"fontStyle":"italic","align":"left","baseline":"middle","color":"#111"},"encoding":{"text":{"field":"t"},"y":{"field":"i","type":"quantitative","axis":null,"scale":{"domain":[-16.61,18.8],"reverse":true}}}},
{"data":{"values":[{"t":"locus","a":74.7,"i":-12.86}]},"mark":{"type":"text","fontSize":17.5,"align":"left","baseline":"middle","color":"#111"},"encoding":{"text":{"field":"t"},"y":{"field":"i","type":"quantitative","axis":null,"scale":{"domain":[-16.61,18.8],"reverse":true}}}}
]},
{"width":0,"height":340,"data":{"values":[]},"mark":"point","encoding":{}},
{"width":0,"height":340,"data":{"values":[]},"mark":"point","encoding":{}},
{"width":396,"height":274.3,"title":{"text":"C","dx":1,"dy":35},
"data":{"values":[
{"age":"Mammalian","rna":"other RNA","k":1,"pct":3.6},{"age":"Mammalian","rna":"intergenic lncRNA","k":2,"pct":8.8},{"age":"Mammalian","rna":"proximal lncRNA","k":3,"pct":28.3},{"age":"Mammalian","rna":"mRNA","k":4,"pct":58.3},
{"age":"Primate","rna":"other RNA","k":1,"pct":7},{"age":"Primate","rna":"intergenic lncRNA","k":2,"pct":24.1},{"age":"Primate","rna":"proximal lncRNA","k":3,"pct":29.9},{"age":"Primate","rna":"mRNA","k":4,"pct":38},
{"age":"OWA","rna":"other RNA","k":1,"pct":7.2},{"age":"OWA","rna":"intergenic lncRNA","k":2,"pct":30.1},{"age":"OWA","rna":"proximal lncRNA","k":3,"pct":29.6},{"age":"OWA","rna":"mRNA","k":4,"pct":32.1},
{"age":"Hominid","rna":"other RNA","k":1,"pct":8.4},{"age":"Hominid","rna":"intergenic lncRNA","k":2,"pct":32.6},{"age":"Hominid","rna":"proximal lncRNA","k":3,"pct":25.3},{"age":"Hominid","rna":"mRNA","k":4,"pct":32.7}]},
"mark":{"type":"bar","stroke":"#777","strokeWidth":0.8},
"encoding":{"x":{"field":"age","type":"nominal","scale":{"type":"band","domain":["Mammalian","Primate","OWA","Hominid"],"range":[79,280],"paddingInner":0.095,"paddingOuter":0}},"y":{"field":"pct","type":"quantitative","stack":"zero","title":"% of TSSs","scale":{"domain":[0,100],"range":[274.3,60]},"axis":{"offset":-54,"values":[0,20,40,60,80,100],"titlePadding":-6,"titleY":155}},"order":{"field":"k","type":"quantitative"},"color":{"field":"rna","type":"nominal","scale":{"domain":["mRNA","proximal lncRNA","intergenic lncRNA","other RNA"],"range":["#FC7D72","#7FAFD4","#FBB15F","#B1DC62"]},"legend":{"columns":2,"legendX":57,"legendY":20,"rowPadding":0,"columnPadding":5,"labelOffset":11}}}},
{"width":207.3,"height":277.7,"title":{"text":"D","dx":-59,"dy":35},
"encoding":{"x":{"field":"x","type":"quantitative","scale":{"domain":[0.4,4.6]},"axis":{"values":[1,2,3,4],"ticks":true,"tickSize":3,"labelOffset":10,"labelPadding":11,"labelExpr":"['','Mammalian','Primate','OWA','Hominid'][datum.value]"}},"y":{"field":"y","type":"quantitative","scale":{"domain":[-3.4,73.5],"range":[277.7,66]},"axis":{"values":[0,20,40,60],"domain":false,"title":"TSS peak width (bp)","titlePadding":6,"titleFontSize":19,"titleY":162}}},
"layer":[
{"data":{"values":[{"x":0.4,"x2":4.6,"y":0,"y2":0},{"x":0.4,"x2":4.6,"y":10,"y2":10},{"x":0.4,"x2":4.6,"y":20,"y2":20},{"x":0.4,"x2":4.6,"y":30,"y2":30},{"x":0.4,"x2":4.6,"y":40,"y2":40},{"x":0.4,"x2":4.6,"y":50,"y2":50},{"x":0.4,"x2":4.6,"y":60,"y2":60},{"x":0.4,"x2":4.6,"y":70,"y2":70}]},"mark":{"type":"rule","color":"#f0f0f0","strokeWidth":1},"encoding":{"x2":{"field":"x2"},"y2":{"field":"y2"}}},
{"data":{"name":"violins"},"mark":{"type":"area","orient":"horizontal","stroke":"#444","strokeWidth":0.8,"opacity":1},"encoding":{"x2":{"field":"x2"},"color":{"field":"age","type":"nominal","legend":null,"scale":{"domain":["Mammalian","Primate","OWA","Hominid"],"range":["#F8766D","#7CAE00","#00BFC4","#C77CFF"]}}}},
{"data":{"values":[{"x":1,"x2":1,"y":1,"y2":73.5},{"x":2,"x2":2,"y":1,"y2":73.5},{"x":3,"x2":3,"y":1,"y2":73.5},{"x":4,"x2":4,"y":1,"y2":73.5}]},"mark":{"type":"rule","color":"#333","strokeWidth":0.8},"encoding":{"x2":{"field":"x2"},"y2":{"field":"y2"}}},
{"data":{"values":[{"age":"Mammalian","x":0.92,"x2":1.08,"y":11,"y2":34},{"age":"Primate","x":1.92,"x2":2.08,"y":9,"y2":32},{"age":"OWA","x":2.92,"x2":3.08,"y":8,"y2":31},{"age":"Hominid","x":3.92,"x2":4.08,"y":7,"y2":31}]},"mark":{"type":"rect","fillOpacity":0,"stroke":"#333","strokeWidth":0.8},"encoding":{"x2":{"field":"x2"},"y2":{"field":"y2"}}},
{"data":{"values":[{"age":"Mammalian","x":0.92,"x2":1.08,"y":20,"y2":20},{"age":"Primate","x":1.92,"x2":2.08,"y":19,"y2":19},{"age":"OWA","x":2.92,"x2":3.08,"y":18,"y2":18},{"age":"Hominid","x":3.92,"x2":4.08,"y":17,"y2":17}]},"mark":{"type":"rule","color":"#222","strokeWidth":1.6},"encoding":{"x2":{"field":"x2"},"y2":{"field":"y2"}}},
{"data":{"values":[{"x":0.4,"x2":4.6,"y":-3.4,"y2":73.5}]},"mark":{"type":"rect","fillOpacity":0,"stroke":"#8a8a8a","strokeWidth":1.2},"encoding":{"x2":{"field":"x2"},"y2":{"field":"y2"}}},
{"data":{"values":[{"x":0.85,"x2":1.95,"y":84.8,"y2":84.8},{"x":0.85,"x2":0.85,"y":84.8,"y2":82.8},{"x":1.95,"x2":1.95,"y":84.8,"y2":82.8},{"x":1.91,"x2":3,"y":80.8,"y2":80.8},{"x":1.91,"x2":1.91,"y":80.8,"y2":78.8},{"x":3,"x2":3,"y":80.8,"y2":78.8},{"x":2.98,"x2":4.06,"y":77.3,"y2":77.3},{"x":2.98,"x2":2.98,"y":77.3,"y2":75.3},{"x":4.06,"x2":4.06,"y":77.3,"y2":75.3}]},"mark":{"type":"rule","color":"#222","strokeWidth":1.1},"encoding":{"x2":{"field":"x2"},"y2":{"field":"y2"}}},
{"data":{"values":[{"t":"***","x":1.37,"y":85.8},{"t":"**","x":2.42,"y":82.6}]},"mark":{"type":"text","fontSize":13,"baseline":"middle","color":"#111"},"encoding":{"text":{"field":"t"}}},
{"data":{"values":[{"t":"p=0.25","x":3.6,"y":80.6}]},"mark":{"type":"text","fontSize":13.5,"baseline":"middle","color":"#111"},"encoding":{"text":{"field":"t"}}}
]},
{"width":446.7,"height":280,"title":{"text":"E","dx":48.2,"dy":35},"resolve":{"scale":{"x":"independent","y":"independent"},"axis":{"x":"independent","y":"independent"}},
"layer":[
{"data":{"values":[{"age":"Mammalian","tss":"TATA-box","k":1,"pct":18.1},{"age":"Mammalian","tss":"TATA-less","k":2,"pct":81.9},{"age":"Primate","tss":"TATA-box","k":1,"pct":24.8},{"age":"Primate","tss":"TATA-less","k":2,"pct":75.2},{"age":"OWA","tss":"TATA-box","k":1,"pct":27.8},{"age":"OWA","tss":"TATA-less","k":2,"pct":72.2},{"age":"Hominid","tss":"TATA-box","k":1,"pct":28.6},{"age":"Hominid","tss":"TATA-less","k":2,"pct":71.4}]},
"mark":{"type":"bar","stroke":"#888","strokeWidth":0.8},
"encoding":{"x":{"field":"age","type":"nominal","scale":{"type":"band","domain":["Mammalian","Primate","OWA","Hominid"],"range":[136.3,343.3],"paddingInner":0.163,"paddingOuter":0},"axis":{"labelPadding":9}},"y":{"field":"pct","type":"quantitative","stack":"zero","title":"% of TSSs","scale":{"domain":[0,100],"range":[280,66.7]},"axis":{"orient":"left","offset":-113.3,"values":[0,20,40,60,80,100],"titlePadding":-6,"titleY":161}},"order":{"field":"k","type":"quantitative"},"color":{"field":"tss","type":"nominal","scale":{"domain":["TATA-box","TATA-less"],"range":["#4D4D4D","#E5E5E5"]},"legend":{"direction":"horizontal","columns":2,"legendX":193.7,"legendY":8,"columnPadding":0,"labelOffset":4,"labelFontSize":14}}}},
{"data":{"values":[{"x":1.07,"x2":2.08,"y":114.7,"y2":114.7},{"x":1.07,"x2":1.07,"y":114.7,"y2":111.4},{"x":2.08,"x2":2.08,"y":114.7,"y2":111.4},{"x":2.04,"x2":3.05,"y":109.2,"y2":109.2},{"x":2.04,"x2":2.04,"y":109.2,"y2":106.6},{"x":3.05,"x2":3.05,"y":109.2,"y2":106.6},{"x":3.01,"x2":4.02,"y":104.9,"y2":104.9},{"x":3.01,"x2":3.01,"y":104.9,"y2":102.2},{"x":4.02,"x2":4.02,"y":104.9,"y2":102.2}]},"mark":{"type":"rule","color":"#222","strokeWidth":1.1},"encoding":{"x":{"field":"x","type":"quantitative","axis":null,"scale":{"domain":[1,4],"range":[158.7,320.7]}},"x2":{"field":"x2"},"y":{"field":"y","type":"quantitative","axis":null,"scale":{"domain":[0,100],"range":[280,66.7]}},"y2":{"field":"y2"}}},
{"data":{"values":[{"t":"***","x":1.54,"y":116},{"t":"**","x":2.5,"y":111}]},"mark":{"type":"text","fontSize":13,"baseline":"middle","color":"#111"},"encoding":{"text":{"field":"t"},"x":{"field":"x","type":"quantitative","axis":null,"scale":{"domain":[1,4],"range":[158.7,320.7]}},"y":{"field":"y","type":"quantitative","axis":null,"scale":{"domain":[0,100],"range":[280,66.7]}}}},
{"data":{"values":[{"t":"p=0.63","x":3.59,"y":109.7}]},"mark":{"type":"text","fontSize":13.5,"baseline":"middle","color":"#111"},"encoding":{"text":{"field":"t"},"x":{"field":"x","type":"quantitative","axis":null,"scale":{"domain":[1,4],"range":[158.7,320.7]}},"y":{"field":"y","type":"quantitative","axis":null,"scale":{"domain":[0,100],"range":[280,66.7]}}}}
]},
{"width":230,"height":281,"title":{"text":"F","dx":-64,"dy":35},"resolve":{"scale":{"x":"independent","y":"independent"},"axis":{"x":"independent","y":"independent"}},
"layer":[
{"data":{"values":[{"age":"Mammalian","tss":"CGI","k":1,"pct":35.7},{"age":"Mammalian","tss":"non-CGI","k":2,"pct":64.3},{"age":"Primate","tss":"CGI","k":1,"pct":24.5},{"age":"Primate","tss":"non-CGI","k":2,"pct":75.5},{"age":"OWA","tss":"CGI","k":1,"pct":19.2},{"age":"OWA","tss":"non-CGI","k":2,"pct":80.8},{"age":"Hominid","tss":"CGI","k":1,"pct":16.4},{"age":"Hominid","tss":"non-CGI","k":2,"pct":83.6}]},
"mark":{"type":"bar","stroke":"#888","strokeWidth":0.8},
"encoding":{"x":{"field":"age","type":"nominal","scale":{"type":"band","domain":["Mammalian","Primate","OWA","Hominid"],"range":[21,228.5],"paddingInner":0.157,"paddingOuter":0},"axis":{"labelPadding":9}},"y":{"field":"pct","type":"quantitative","stack":"zero","title":"% of TSSs","scale":{"domain":[0,100],"range":[281,67.3]},"axis":{"orient":"left","values":[0,20,40,60,80,100],"titlePadding":-5,"titleY":161}},"order":{"field":"k","type":"quantitative"},"color":{"field":"tss","type":"nominal","scale":{"domain":["CGI","non-CGI"],"range":["#4D4D4D","#E5E5E5"]},"legend":{"direction":"horizontal","columns":2,"legendX":109,"legendY":8,"columnPadding":10,"labelOffset":5,"labelFontSize":13}}}},
{"data":{"values":[{"x":1.035,"x2":2.04,"y":115.4,"y2":115.4},{"x":1.035,"x2":1.035,"y":115.4,"y2":112.3},{"x":2.04,"x2":2.04,"y":115.4,"y2":112.3},{"x":2,"x2":3.005,"y":109.8,"y2":109.8},{"x":2,"x2":2,"y":109.8,"y2":107.2},{"x":3.005,"x2":3.005,"y":109.8,"y2":107.2},{"x":2.976,"x2":3.976,"y":105.3,"y2":105.3},{"x":2.976,"x2":2.976,"y":105.3,"y2":102.8},{"x":3.976,"x2":3.976,"y":105.3,"y2":102.8}]},"mark":{"type":"rule","color":"#222","strokeWidth":1.1},"encoding":{"x":{"field":"x","type":"quantitative","axis":null,"scale":{"domain":[1,4],"range":[43.8,206.2]}},"x2":{"field":"x2"},"y":{"field":"y","type":"quantitative","axis":null,"scale":{"domain":[0,100],"range":[281,67.3]}},"y2":{"field":"y2"}}},
{"data":{"values":[{"t":"***","x":1.51,"y":116.5},{"t":"***","x":2.475,"y":111}]},"mark":{"type":"text","fontSize":13,"baseline":"middle","color":"#111"},"encoding":{"text":{"field":"t"},"x":{"field":"x","type":"quantitative","axis":null,"scale":{"domain":[1,4],"range":[43.8,206.2]}},"y":{"field":"y","type":"quantitative","axis":null,"scale":{"domain":[0,100],"range":[281,67.3]}}}},
{"data":{"values":[{"t":"p=0.07","x":3.57,"y":110.4}]},"mark":{"type":"text","fontSize":13.5,"baseline":"middle","color":"#111"},"encoding":{"text":{"field":"t"},"x":{"field":"x","type":"quantitative","axis":null,"scale":{"domain":[1,4],"range":[43.8,206.2]}},"y":{"field":"y","type":"quantitative","axis":null,"scale":{"domain":[0,100],"range":[281,67.3]}}}}
]}
]}
